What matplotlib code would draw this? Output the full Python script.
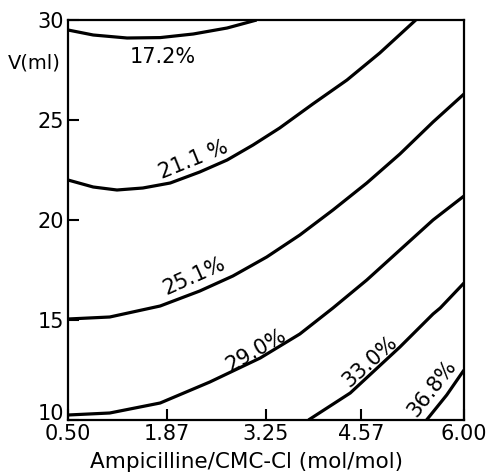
import matplotlib
matplotlib.use("Agg")
import matplotlib.pyplot as plt

# Contour lines: x = Ampicilline/CMC-Cl (mol/mol), y = V (ml)
levels = ["17.2%", "21.1 %", "25.1%", "29.0%", "33.0%", "36.8%"]

c172_x = [0.50, 0.85, 1.32, 1.78, 2.24, 2.71, 3.12]
c172_y = [29.50, 29.25, 29.10, 29.12, 29.30, 29.60, 30.00]

c211_x = [0.50, 0.85, 1.18, 1.54, 1.92, 2.33, 2.71, 3.07, 3.44, 3.90, 4.375, 4.83, 5.33]
c211_y = [22.00, 21.65, 21.50, 21.60, 21.85, 22.40, 23.00, 23.75, 24.60, 25.80, 27.00, 28.35, 30.00]

c251_x = [0.50, 1.08, 1.78, 2.33, 2.79, 3.26, 3.72, 4.18, 4.65, 5.11, 5.57, 6.00]
c251_y = [15.05, 15.15, 15.70, 16.45, 17.20, 18.15, 19.25, 20.50, 21.85, 23.30, 24.90, 26.30]

c290_x = [0.50, 1.08, 1.78, 2.47, 3.17, 3.72, 4.18, 4.65, 5.11, 5.57, 6.00]
c290_y = [10.25, 10.35, 10.85, 11.90, 13.10, 14.30, 15.60, 17.00, 18.50, 20.00, 21.20]

c330_x = [3.84, 4.42, 5.11, 5.57, 5.67, 6.00]
c330_y = [10.00, 11.35, 13.65, 15.30, 15.60, 16.85]

c368_x = [5.48, 5.76, 6.00]
c368_y = [10.00, 11.25, 12.50]

x_ticks = [0.50, 1.87, 3.25, 4.57, 6.00]
x_ticklabels = ["0.50", "1.87", "3.25", "4.57", "6.00"]
y_ticks = [10, 15, 20, 25, 30]
y_ticklabels = ["", "15", "20", "25", "30"]

# label positions (data coords) and rotations
label_pos = [(1.81, 28.15), (2.24, 23.0), (2.26, 17.2), (3.12, 13.5), (4.69, 12.95), (5.56, 11.6)]
label_rot = [0, 22, 24, 30, 42, 52]

fig = plt.figure(figsize=(4.87, 4.72), dpi=100)
ax = fig.add_axes([68/487, 1-420/472, (464-68)/487, (420-20)/472])

lines = [(c172_x, c172_y), (c211_x, c211_y), (c251_x, c251_y),
         (c290_x, c290_y), (c330_x, c330_y), (c368_x, c368_y)]
for (xs, ys) in lines:
    ax.plot(xs, ys, color="black", lw=2.3, solid_capstyle="butt",
            solid_joinstyle="round", clip_on=True)

for lab, (lx, ly), rot in zip(levels, label_pos, label_rot):
    ax.text(lx, ly, lab, fontsize=15, rotation=rot, ha="center", va="center",
            rotation_mode="anchor")

ax.set_xlim(0.5, 6.0)
ax.set_ylim(10, 30)
ax.set_xticks(x_ticks)
ax.set_xticklabels(x_ticklabels)
ax.set_yticks(y_ticks)
ax.set_yticklabels(y_ticklabels)
ax.tick_params(direction="in", length=8, width=1.5, labelsize=15, pad=3)
for s in ax.spines.values():
    s.set_linewidth(1.6)

# "10" label sits slightly above its tick in the reference
ax.annotate("10", xy=(0, 10), xycoords=("axes fraction", "data"),
            xytext=(-3, 4.5), textcoords="offset points",
            ha="right", va="center", fontsize=15)

fig.text(34/487, 1-63/472, "V(ml)", fontsize=14, ha="center", va="center")
fig.text(247/487, 1-462/472, "Ampicilline/CMC-Cl (mol/mol)", fontsize=15.5,
         ha="center", va="center")

fig.savefig("out.png", dpi=100)
